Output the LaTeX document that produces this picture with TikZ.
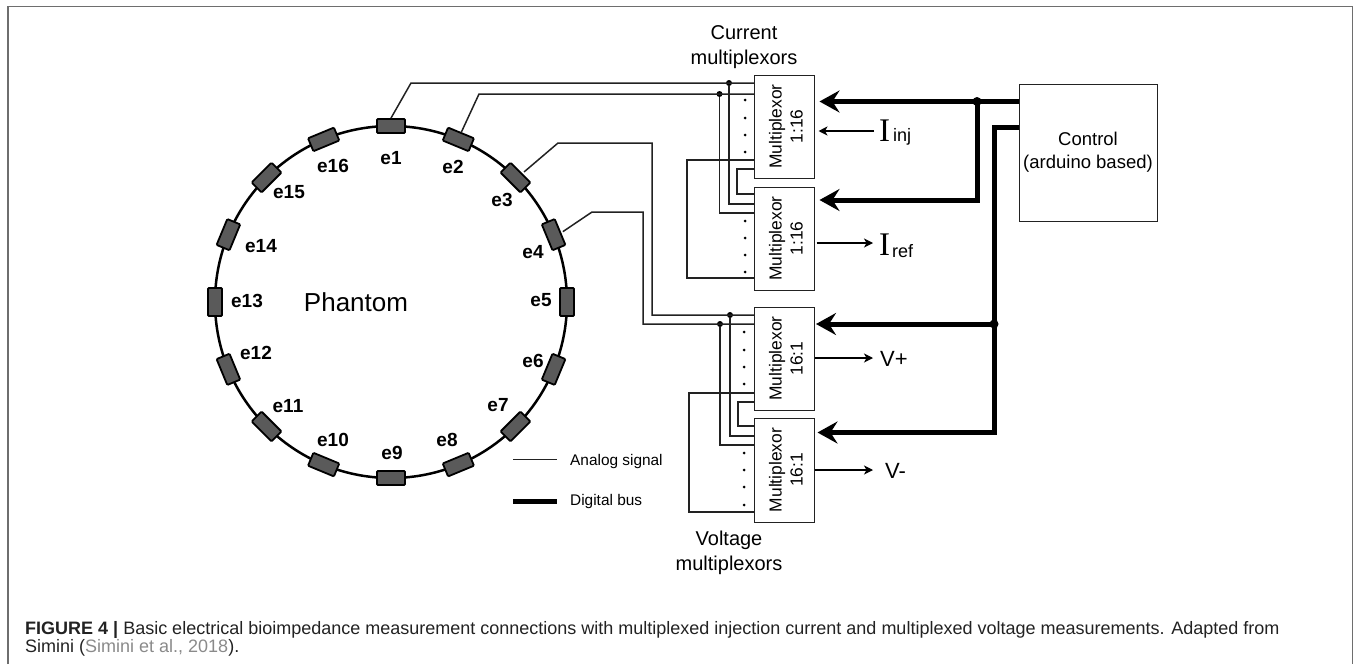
\documentclass[tikz,border=0pt]{standalone}
\usepackage{fontspec}
\setmainfont{Liberation Sans}
\newfontfamily\serifface{Liberation Serif}
\usetikzlibrary{arrows.meta,shapes.geometric}
\definecolor{padgray}{HTML}{5A5A5A}
\definecolor{framegray}{HTML}{6E6E6E}
\definecolor{citegray}{HTML}{8A8A8A}
\definecolor{inkgray}{HTML}{222222}
\tikzset{
  wire/.style={line width=1.5pt,draw=inkgray},
  busline/.style={line width=5pt,draw=black},
  bigtip/.style={-{Stealth[length=20pt,width=22pt,inset=7pt]}},
  smalltip/.style={-{Stealth[length=9pt,width=9pt,inset=2.5pt]},line width=1.2pt},
  muxbox/.style={draw=inkgray,line width=0.9pt,minimum width=60pt,inner sep=0pt,outer sep=0pt,fill=white},
  muxtext/.style={rotate=90,align=center,inner sep=0pt,font=\fontsize{17.4}{21}\selectfont},
  ctrlbox/.style={draw=inkgray,line width=0.9pt,minimum width=138pt,minimum height=137pt,inner sep=0pt,outer sep=0pt,align=center,font=\fontsize{18.5}{23}\selectfont},
  electrode/.style={draw=black,fill=padgray,line width=1.8pt,rounded corners=1pt,minimum width=28pt,minimum height=14pt,inner sep=0pt,outer sep=0.9pt},
  elabel/.style={inner sep=0pt,font=\bfseries\fontsize{19}{19}\selectfont},
  jdot/.style={circle,fill=black,minimum size=6pt,inner sep=0pt},
  busdot/.style={circle,fill=black,minimum size=9pt,inner sep=0pt},
  grouplabel/.style={align=center,inner sep=0pt,font=\fontsize{20}{25.5}\selectfont},
  caption/.style={anchor=base west,inner sep=0pt,font=\fontsize{18}{18}\selectfont,text=inkgray}
}
\begin{document}
\begin{tikzpicture}[x=1pt,y=-1pt]
  \useasboundingbox (0,0) rectangle (1356,664);
  \draw[framegray,line width=1.3pt] (8,664)--(8,6.5)--(1352.5,6.5)--(1352.5,664);

  \draw[line width=2.5pt] (391,302) circle (176);
  \foreach \i/\lx/\ly in {1/391/158,2/453/167,3/502/200,4/533/252,5/541/300,6/533/361,7/498/405,8/447/440,
    9/392/453,10/333/440,11/288/406,12/256/353,13/247/301,14/261/246,15/289/192,16/333/166}{
    \pgfmathsetmacro{\ang}{90-(\i-1)*22.5}
    \node[electrode,rotate=\ang-90] (e\i) at ({391+176*cos(\ang)},{302-176*sin(\ang)}) {};
    \node[elabel] (le\i) at (\lx,\ly) {e\i};
  }
  \node[inner sep=0pt,font=\fontsize{26}{26}\selectfont] (phantom) at (356,302) {Phantom};

  \foreach \n/\y/\h/\r in {mux1/126.5/103/1:16,mux2/238.5/103/1:16,mux3/358.5/103/16:1,mux4/470/104/16:1}{
    \node[muxbox,minimum height=\h pt] (\n) at (784.5,\y) {};
    \node[muxtext] (t\n) at (786,\y) {Multiplexor\\\r};
  }
  \node[ctrlbox] (ctrl) at (1088,152.5) {Control\\(arduino based)};

  % current side
  \node[jdot] (j1) at (729,83) {}; \node[jdot] (j2) at (719.5,94) {};
  \coordinate (w1) at (411,83); \coordinate (w2) at (479,94);
  \draw[wire] (e1.north)--(w1)--(mux1.west |- w1);
  \draw[wire] (e2.north)--(w2)--(mux1.west |- w2);
  \coordinate (j1b) at (729,204); \coordinate (j2b) at (719.5,213);
  \draw[wire] (j1)--(j1b)--(mux2.west |- j1b);
  \draw[wire] (j2)--(j2b)--(mux2.west |- j2b);
  \coordinate (la) at (687,160); \coordinate (lb) at (687,278);
  \draw[wire] (mux1.west |- la)--(la)--(lb)--(mux2.west |- lb);
  \coordinate (sa) at (737,169); \coordinate (sb) at (737,194);
  \draw[wire] (mux1.west |- sa)--(sa)--(sb)--(mux2.west |- sb);
  \foreach \y in {100,118,135,152,221,238,255,272}{\fill (745,\y) circle (1.5);}

  % voltage side
  \node[jdot] (j3) at (730,315) {}; \node[jdot] (j4) at (720,324) {};
  \coordinate (w3a) at (558,143); \coordinate (w3b) at (652,143); \coordinate (w3c) at (652,315);
  \coordinate (w4a) at (592,212); \coordinate (w4b) at (643,212); \coordinate (w4c) at (643,324);
  \draw[wire] ([xshift=3pt]e3.north)--(w3a)--(w3b)--(w3c)--(mux3.west |- w3c);
  \draw[wire] ([xshift=2pt]e4.north)--(w4a)--(w4b)--(w4c)--(mux3.west |- w4c);
  \coordinate (j3b) at (730,436); \coordinate (j4b) at (720,445);
  \draw[wire] (j3)--(j3b)--(mux4.west |- j3b);
  \draw[wire] (j4)--(j4b)--(mux4.west |- j4b);
  \coordinate (lc) at (689,393); \coordinate (ld) at (689,512);
  \draw[wire] (mux3.west |- lc)--(lc)--(ld)--(mux4.west |- ld);
  \coordinate (sc) at (738,402); \coordinate (sd) at (738,426);
  \draw[wire] (mux3.west |- sc)--(sc)--(sd)--(mux4.west |- sd);
  \foreach \y in {332,350,367,384,453,470,487,505}{\fill (744,\y) circle (1.5);}

  % buses
  \node[busdot] (bd1) at (977,101.5) {}; \node[busdot] (bd2) at (994,324) {};
  \coordinate (b1) at (977,200); \coordinate (b2a) at (994,127); \coordinate (b2b) at (994,432.5);
  \draw[busline,bigtip] (ctrl.west |- bd1)--([xshift=5pt]mux1.east |- bd1);
  \draw[busline,bigtip] (bd1.center)--(b1)--([xshift=5pt]mux2.east |- b1);
  \draw[busline,bigtip] (ctrl.west |- b2a)--(b2a)--(b2b)--([xshift=3pt]mux4.east |- b2b);
  \draw[busline,bigtip] (bd2.center)--([xshift=1.5pt]mux3.east |- bd2);

  % signals
  \coordinate (sinj) at (874,131); \coordinate (sref) at (873,243);
  \coordinate (svp) at (873,358); \coordinate (svm) at (873,470);
  \draw[smalltip] (sinj)--([xshift=4pt]mux1.east |- sinj);
  \draw[smalltip] ([xshift=2pt]mux2.east |- sref)--(sref);
  \draw[smalltip] (mux3.east |- svp)--(svp);
  \draw[smalltip] (mux4.east |- svm)--(svm);
  \node[anchor=base west,inner sep=0pt] (Iinj) at (879,141) {{\serifface\fontsize{33}{33}\selectfont I}\kern3pt{\fontsize{18}{18}\selectfont inj}};
  \node[anchor=base west,inner sep=0pt] (Iref) at (879,255) {{\serifface\fontsize{33}{33}\selectfont I}\kern2pt\raisebox{-2pt}{\fontsize{18}{18}\selectfont ref}};
  \node[anchor=base west,inner sep=0pt,font=\fontsize{22}{22}\selectfont] (Vp) at (880,366) {V+};
  \node[anchor=base west,inner sep=0pt,font=\fontsize{22}{22}\selectfont] (Vm) at (885,478) {V-};

  \node[grouplabel] (gcur) at (744,47) {Current\\multiplexors};
  \node[grouplabel] (gvol) at (729,553) {Voltage\\multiplexors};

  % legend
  \coordinate (ka) at (513,459); \coordinate (kb) at (557,459);
  \coordinate (kc) at (513,501); \coordinate (kd) at (557,501);
  \draw[line width=0.8pt,draw=inkgray] (ka)--(kb);
  \draw[busline] (kc)--(kd);
  \node[anchor=west,inner sep=0pt,font=\fontsize{15.4}{15.4}\selectfont] (kanalog) at (570,462) {Analog signal};
  \node[anchor=west,inner sep=0pt,font=\fontsize{15.4}{15.4}\selectfont] (kdigital) at (570,502) {Digital bus};

  \node[caption] (cap1) at (25,634.5) {\textbf{FIGURE 4 |} Basic electrical bioimpedance measurement connections with multiplexed injection current and multiplexed voltage measurements. Adapted from};
  \node[caption] (cap2) at (25,652.5) {Simini ({\color{citegray}Simini et al., 2018}).};
\end{tikzpicture}
\end{document}
